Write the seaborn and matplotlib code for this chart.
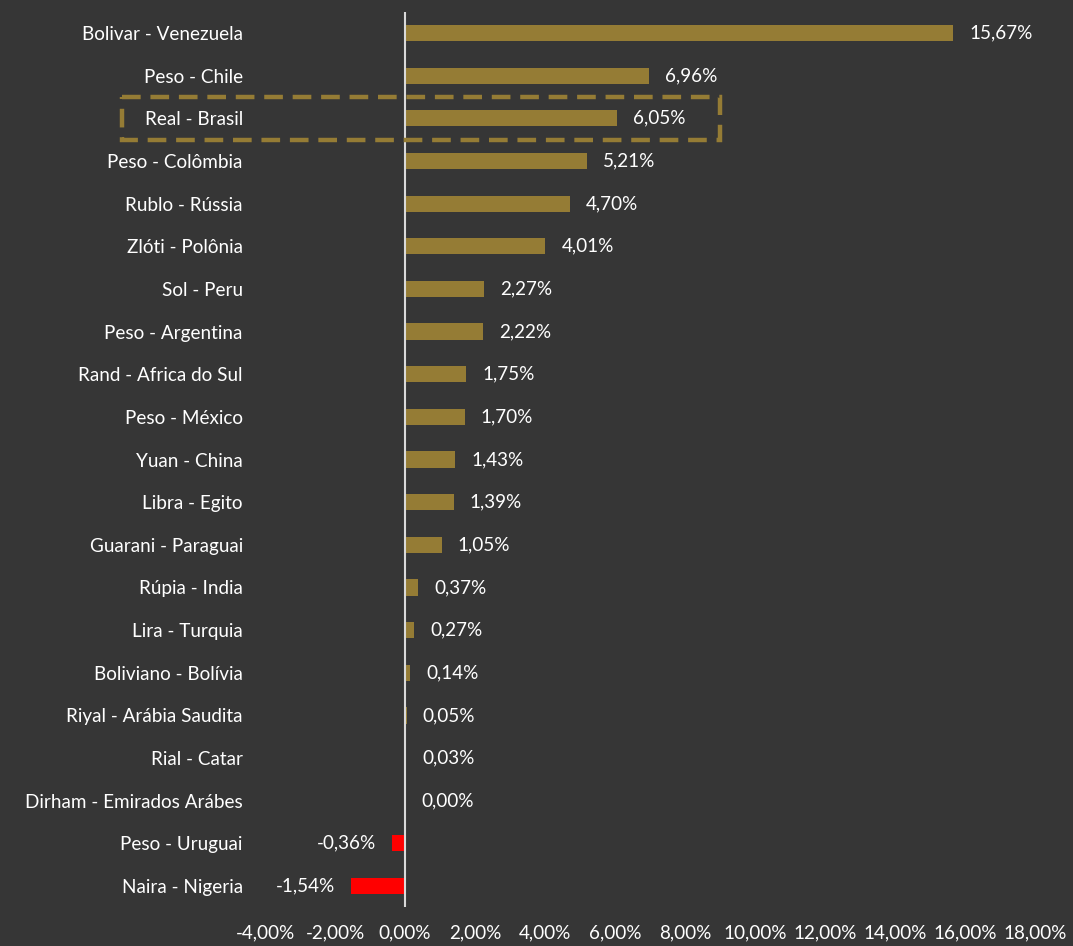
import matplotlib
matplotlib.use("Agg")
import matplotlib.pyplot as plt
import seaborn as sns
from matplotlib.patches import Rectangle

categories = ["Bolivar - Venezuela", "Peso - Chile", "Real - Brasil", "Peso - Colômbia",
              "Rublo - Rússia", "Zlóti - Polônia", "Sol - Peru", "Peso - Argentina",
              "Rand - Africa do Sul", "Peso - México", "Yuan - China", "Libra - Egito",
              "Guarani - Paraguai", "Rúpia - India", "Lira - Turquia", "Boliviano - Bolívia",
              "Riyal - Arábia Saudita", "Rial - Catar", "Dirham - Emirados Arábes",
              "Peso - Uruguai", "Naira - Nigeria"]
values = [15.67, 6.96, 6.05, 5.21, 4.70, 4.01, 2.27, 2.22, 1.75, 1.70, 1.43, 1.39,
          1.05, 0.37, 0.27, 0.14, 0.05, 0.03, 0.00, -0.36, -1.54]
xticks = [-4, -2, 0, 2, 4, 6, 8, 10, 12, 14, 16, 18]
highlight = "Real - Brasil"

BG = "#363636"
GOLD = "#957C35"
RED = "#FF0000"
TXT = "#FFFFFF"
FS = 13.6

sns.set_theme(style="white")
plt.rcParams['font.family'] = ['Lato', 'DejaVu Sans']

fig = plt.figure(figsize=(10.73, 9.46), dpi=100, facecolor=BG)
ax = fig.add_axes([0.247, 0.0409, 0.9646 - 0.247, 0.9876 - 0.0409])
ax.set_facecolor(BG)

colors = [GOLD if v >= 0 else RED for v in values]
sns.barplot(x=values, y=categories, hue=categories, palette=colors, legend=False,
            orient="h", width=0.38, ax=ax, saturation=1, linewidth=0, edgecolor="none")

ax.set_xlim(-4, 18)
ax.set_ylim(len(categories) - 0.5, -0.5)
ax.set_xticks(xticks)
ax.set_xticklabels([f"{t:.2f}%".replace(".", ",") for t in xticks])
for s in ax.spines.values():
    s.set_visible(False)
ax.axvline(0, color="#D9D9D9", lw=1.5, zorder=3)
ax.tick_params(axis="x", length=0, pad=12, labelsize=FS, labelcolor=TXT)
ax.tick_params(axis="y", length=0, pad=16, labelsize=FS, labelcolor=TXT)
ax.set_xlabel("")
ax.set_ylabel("")
ax.grid(False)

for i, v in enumerate(values):
    lab = f"{v:.2f}%".replace(".", ",")
    if v < 0:
        ax.annotate(lab, (v, i), xytext=(-11.5, 0), textcoords="offset points",
                    ha="right", va="center", color=TXT, fontsize=FS)
    else:
        ax.annotate(lab, (v, i), xytext=(11.5, 0), textcoords="offset points",
                    ha="left", va="center", color=TXT, fontsize=FS)

hi = categories.index(highlight)
rect = Rectangle((-8.1, hi - 0.5), 17.1, 1.0, fill=False, edgecolor=GOLD, lw=3.2,
                 linestyle=(0, (4.2, 2.2)), clip_on=False, zorder=4)
ax.add_patch(rect)

fig.savefig("out.png", dpi=100, facecolor=BG)
